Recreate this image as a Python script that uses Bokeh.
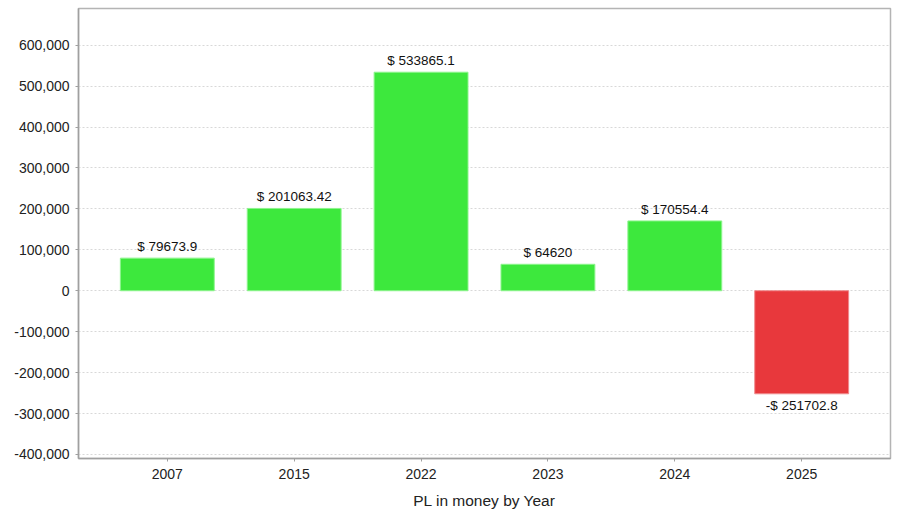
from bokeh.plotting import figure
from bokeh.models import ColumnDataSource, NumeralTickFormatter, SingleIntervalTicker, FactorRange, Range1d, LabelSet
from bokeh.core.properties import value
from bokeh.embed import file_html
from bokeh.resources import INLINE

years = ["2007", "2015", "2022", "2023", "2024", "2025"]
pl_values = [79673.9, 201063.42, 533865.1, 64620, 170554.4, -251702.8]
value_labels = ["$ 79673.9", "$ 201063.42", "$ 533865.1", "$ 64620", "$ 170554.4", "-$ 251702.8"]

GREEN = "#3de83d"
RED = "#e8383c"

colors = [GREEN if v >= 0 else RED for v in pl_values]
outline = ["#8df58d" if v >= 0 else "#f08a8c" for v in pl_values]
pos_lbl = [l if v >= 0 else "" for v, l in zip(pl_values, value_labels)]
neg_lbl = [l if v < 0 else "" for v, l in zip(pl_values, value_labels)]

src = ColumnDataSource(dict(year=years, value=pl_values, color=colors, lc=outline,
                            py=[v if v >= 0 else 0 for v in pl_values], pl=pos_lbl,
                            ny=[v if v < 0 else 0 for v in pl_values], nl=neg_lbl))

p = figure(x_range=FactorRange(factors=years, range_padding=0.4 / 6),
           y_range=Range1d(-409800, 689500),
           frame_width=812, frame_height=450,
           min_border_left=78, min_border_top=8, min_border_right=4, min_border_bottom=10,
           output_backend="svg", toolbar_location=None)

p.vbar(x="year", top="value", bottom=0, width=0.74, source=src,
       fill_color="color", line_color="lc", line_width=1)

lab_font = "Liberation Sans"
pos = LabelSet(x="year", y="py", text="pl", source=src, text_align="center",
               text_baseline="bottom", y_offset=4, text_font_size="13.5px",
               text_color="#111111", text_font=value(lab_font))
neg = LabelSet(x="year", y="ny", text="nl", source=src, text_align="center",
               text_baseline="top", y_offset=-4, text_font_size="13.5px",
               text_color="#111111", text_font=value(lab_font))
p.add_layout(pos)
p.add_layout(neg)

p.yaxis.ticker = SingleIntervalTicker(interval=100000)
p.yaxis.formatter = NumeralTickFormatter(format="0,0")
p.xaxis.axis_label = "PL in money by Year"

for ax in (p.xaxis, p.yaxis):
    ax.major_label_text_font = lab_font
    ax.major_label_text_font_size = "14px"
    ax.major_label_text_color = "#222222"
    ax.axis_line_color = "#a0a0a0"
    ax.axis_line_width = 1.5
    ax.major_tick_line_color = "#a0a0a0"
    ax.major_tick_in = 0
    ax.major_tick_out = 3
    ax.minor_tick_line_color = None

p.yaxis.major_label_standoff = 5
p.xaxis.axis_label_text_font = lab_font
p.xaxis.axis_label_text_font_size = "15.5px"
p.xaxis.axis_label_text_font_style = "normal"
p.xaxis.axis_label_text_color = "#222222"
p.xaxis.major_label_standoff = 7
p.xaxis.axis_label_standoff = 10

p.xgrid.grid_line_color = None
p.ygrid.grid_line_color = "#d8d8d8"
p.ygrid.grid_line_dash = "2 2"
p.outline_line_color = "#b4b4b4"
p.outline_line_width = 1.5
p.background_fill_color = "white"
p.border_fill_color = "white"

open("out.html", "w").write(file_html(p, INLINE))
